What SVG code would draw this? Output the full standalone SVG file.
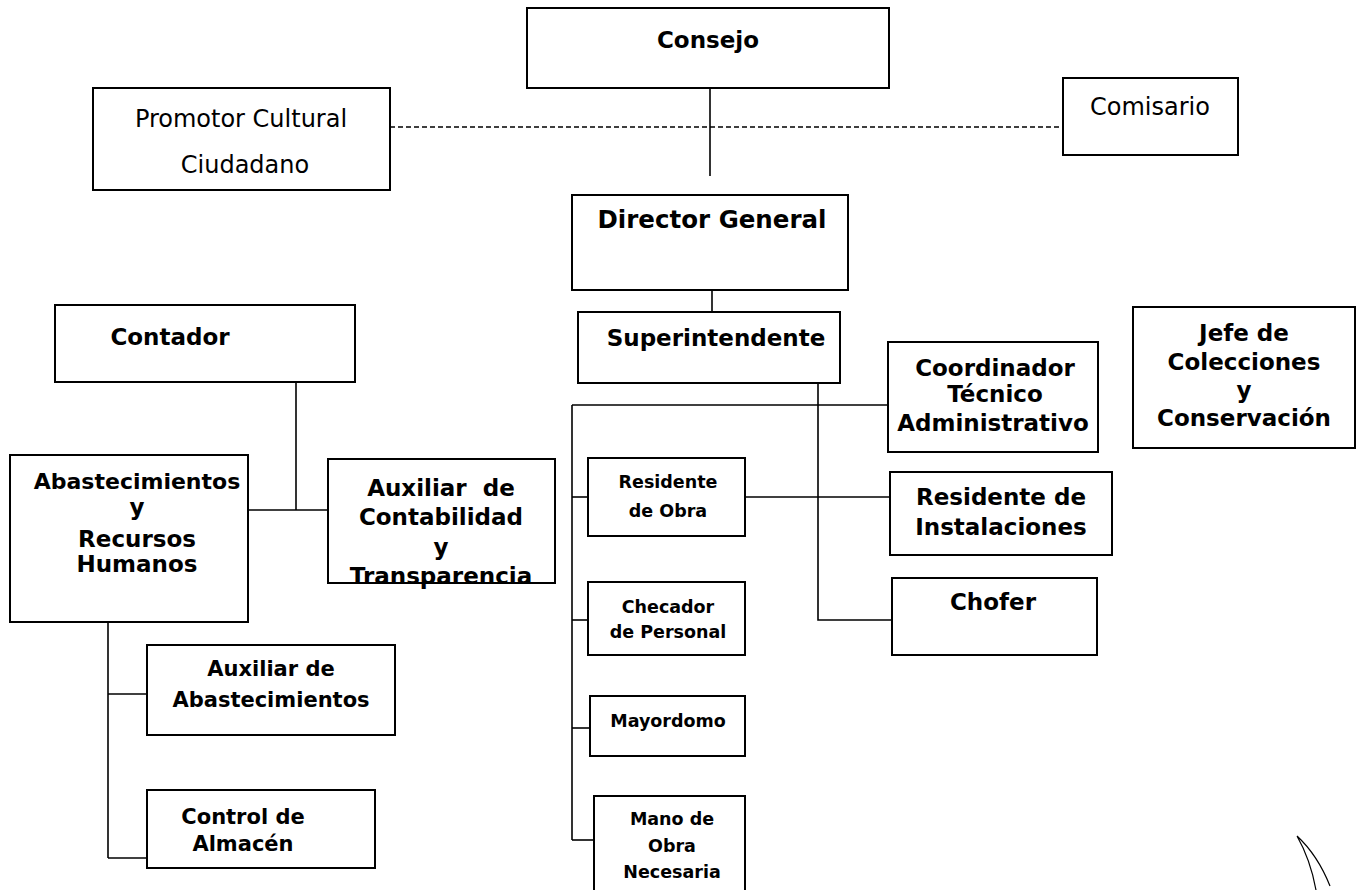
<svg xmlns="http://www.w3.org/2000/svg" width="1362" height="890" viewBox="0 0 1362 890">
<style>
.box{fill:#fff;stroke:#000;stroke-width:2}
.ln{fill:none;stroke:#000;stroke-width:1.6}
.dash{fill:none;stroke:#000;stroke-width:1.6;stroke-dasharray:5 3}
.b{font-family:"DejaVu Sans","Liberation Sans",sans-serif;font-weight:bold;font-size:23px;text-anchor:middle;fill:#000}
.m{font-family:"DejaVu Sans","Liberation Sans",sans-serif;font-weight:bold;font-size:21px;text-anchor:middle;fill:#000}
.s{font-family:"DejaVu Sans","Liberation Sans",sans-serif;font-weight:bold;font-size:17.5px;text-anchor:middle;fill:#000}
.r{font-family:"DejaVu Sans","Liberation Sans",sans-serif;font-size:24px;text-anchor:middle;fill:#000}
</style>
<rect width="1362" height="890" fill="#fff"/>
<g id="connectors">
<line class="dash" x1="390" y1="127" x2="1063" y2="127"/>
<line class="ln" x1="710" y1="88" x2="710" y2="176"/>
<line class="ln" x1="712" y1="290" x2="712" y2="312"/>
<line class="ln" x1="296" y1="382" x2="296" y2="510"/>
<line class="ln" x1="248" y1="510" x2="328" y2="510"/>
<polyline class="ln" points="818,383 818,620 892,620"/>
<line class="ln" x1="572" y1="405" x2="888" y2="405"/>
<line class="ln" x1="572" y1="405" x2="572" y2="840"/>
<line class="ln" x1="572" y1="497" x2="588" y2="497"/>
<line class="ln" x1="745" y1="497" x2="890" y2="497"/>
<line class="ln" x1="572" y1="620" x2="588" y2="620"/>
<line class="ln" x1="572" y1="728" x2="590" y2="728"/>
<line class="ln" x1="572" y1="840" x2="594" y2="840"/>
<line class="ln" x1="108" y1="622" x2="108" y2="858"/>
<line class="ln" x1="108" y1="694" x2="147" y2="694"/>
<line class="ln" x1="108" y1="858" x2="147" y2="858"/>
</g>
<g id="consejo"><rect class="box" x="527" y="8" width="362" height="80"/><text class="b" x="708" y="48">Consejo</text></g>
<g id="promotor"><rect class="box" x="93" y="88" width="297" height="102"/><text class="r" x="241" y="127">Promotor Cultural</text><text class="r" x="245" y="173">Ciudadano</text></g>
<g id="comisario"><rect class="box" x="1063" y="78" width="175" height="77"/><text class="r" x="1150" y="115">Comisario</text></g>
<g id="director"><rect class="box" x="572" y="195" width="276" height="95"/><text class="b" x="712" y="228" style="font-size:24.5px">Director General</text></g>
<g id="superintendente"><rect class="box" x="578" y="312" width="262" height="71"/><text class="b" x="716" y="346">Superintendente</text></g>
<g id="contador"><rect class="box" x="55" y="305" width="300" height="77"/><text class="b" x="170" y="345">Contador</text></g>
<g id="abastecimientos"><rect class="box" x="10" y="455" width="238" height="167"/><text class="b" x="137" y="489" style="font-size:22px">Abastecimientos</text><text class="b" x="137" y="515">y</text><text class="b" x="137" y="547">Recursos</text><text class="b" x="137" y="572">Humanos</text></g>
<g id="aux-contabilidad"><rect class="box" x="328" y="459" width="227" height="124"/><text class="b" x="441" y="496" xml:space="preserve">Auxiliar  de</text><text class="b" x="441" y="525">Contabilidad</text><text class="b" x="441" y="555">y</text><text class="b" x="441" y="584">Transparencia</text></g>
<g id="coordinador"><rect class="box" x="888" y="342" width="210" height="110"/><text class="b" x="995" y="376">Coordinador</text><text class="b" x="995" y="402">Técnico</text><text class="b" x="993" y="431">Administrativo</text></g>
<g id="jefe"><rect class="box" x="1133" y="307" width="222" height="141"/><text class="b" x="1244" y="341">Jefe de</text><text class="b" x="1244" y="370">Colecciones</text><text class="b" x="1244" y="398">y</text><text class="b" x="1244" y="426">Conservación</text></g>
<g id="residente-obra"><rect class="box" x="588" y="458" width="157" height="78"/><text class="s" x="668" y="488">Residente</text><text class="s" x="668" y="517">de Obra</text></g>
<g id="residente-instalaciones"><rect class="box" x="890" y="472" width="222" height="83"/><text class="b" x="1001" y="505">Residente de</text><text class="b" x="1001" y="535">Instalaciones</text></g>
<g id="chofer"><rect class="box" x="892" y="578" width="205" height="77"/><text class="b" x="993" y="610">Chofer</text></g>
<g id="checador"><rect class="box" x="588" y="582" width="157" height="73"/><text class="s" x="668" y="613">Checador</text><text class="s" x="668" y="638">de Personal</text></g>
<g id="mayordomo"><rect class="box" x="590" y="696" width="155" height="60"/><text class="s" x="668" y="727">Mayordomo</text></g>
<g id="mano-obra"><rect class="box" x="594" y="796" width="151" height="100"/><text class="s" x="672" y="825">Mano de</text><text class="s" x="672" y="852">Obra</text><text class="s" x="672" y="878">Necesaria</text></g>
<g id="aux-abastecimientos"><rect class="box" x="147" y="645" width="248" height="90"/><text class="m" x="271" y="676">Auxiliar de</text><text class="m" x="271" y="707">Abastecimientos</text></g>
<g id="control-almacen"><rect class="box" x="147" y="790" width="228" height="78"/><text class="m" x="243" y="824">Control de</text><text class="m" x="243" y="851">Almacén</text></g>
<path d="M1297,836 C1305,850 1312,868 1316,890 M1297,836 C1310,848 1322,866 1330,886" fill="none" stroke="#000" stroke-width="1.2"/>
</svg>
